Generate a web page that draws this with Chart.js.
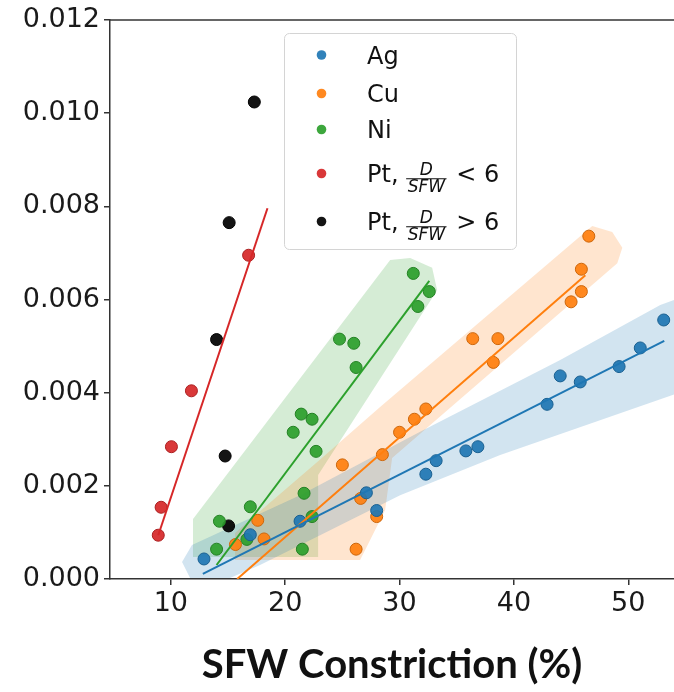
<!DOCTYPE html>
<html>
<head>
<meta charset="utf-8">
<script src="https://cdn.jsdelivr.net/npm/chart.js@4.4.0/dist/chart.umd.min.js"></script>
<style>
  html, body { margin: 0; padding: 0; background: #ffffff; }
  #wrap { width: 674px; height: 692px; position: relative; overflow: hidden; }
  canvas { display: block; }
</style>
</head>
<body>
<div id="wrap"><canvas id="chart" width="674" height="692"></canvas></div>
<script>
// Axis ticks
const xTicks = [10, 20, 30, 40, 50];
const yTicks = [0, 0.002, 0.004, 0.006, 0.008, 0.010, 0.012];

// Measured points: SFW constriction (%) vs. value
const agX = [12.9, 16.95, 21.3, 27.1, 28.0, 32.3, 33.2, 35.8, 36.85, 42.9, 44.05, 45.8, 49.2, 51.05, 53.1];
const agY = [0.00043, 0.00095, 0.00124, 0.00185, 0.00147, 0.00225, 0.00254, 0.00275, 0.00284, 0.00375, 0.00436, 0.00423, 0.00456, 0.00496, 0.00556];

const cuX = [15.65, 17.6, 18.15, 25.0, 26.2, 26.6, 28.0, 28.5, 30.0, 31.3, 32.3, 36.4, 38.2, 38.6, 45.0, 45.9, 45.9, 46.55];
const cuY = [0.00074, 0.00126, 0.00086, 0.00245, 0.00064, 0.00173, 0.00134, 0.00267, 0.00315, 0.00343, 0.00365, 0.00516, 0.00465, 0.00516, 0.00595, 0.00617, 0.00665, 0.00736];

const niX = [14.0, 14.25, 16.65, 16.95, 20.7, 21.4, 21.5, 21.65, 22.35, 22.35, 22.7, 24.75, 26.0, 26.2, 31.2, 31.6, 32.6];
const niY = [0.00064, 0.00124, 0.00085, 0.00155, 0.00315, 0.00354, 0.00064, 0.00184, 0.00343, 0.00134, 0.00274, 0.00515, 0.00506, 0.00454, 0.00656, 0.00585, 0.00617];

const ptLowX = [8.9, 9.15, 10.05, 11.8, 16.8];
const ptLowY = [0.00094, 0.00154, 0.00284, 0.00404, 0.00695];

const ptHighX = [14.0, 14.75, 15.05, 15.1, 17.3];
const ptHighY = [0.00514, 0.00264, 0.00114, 0.00765, 0.01024];

// Linear fits (end points)
const agFitX = [12.8, 53.15];
const agFitY = [0.00011, 0.00511];
const cuFitX = [15.8, 46.25];
const cuFitY = [0.0, 0.00652];
const niFitX = [14.0, 32.6];
const niFitY = [0.0003, 0.0064];
const ptFitX = [8.9, 18.45];
const ptFitY = [0.00094, 0.00796];

// Shaded spread regions (polygon outlines)
const agBandX = [11.68, 10.98, 11.85, 21.3, 31.8, 44.05, 52.8, 56.3, 56.3, 38.8, 30.05, 23.05, 17.8, 15.18];
const agBandY = [0.00002, 0.000365, 0.00073, 0.0018, 0.00316, 0.0047, 0.00588, 0.0062, 0.00416, 0.00266, 0.0018, 0.00094, 0.0003, 0.00002];

const cuBandX = [15.62, 26.55, 28.74, 29.35, 49.04, 49.48, 48.6, 46.85, 28.3, 22.88, 16.93, 15.62];
const cuBandY = [0.00041, 0.00041, 0.00148, 0.0026, 0.00678, 0.00711, 0.00745, 0.00758, 0.00369, 0.00253, 0.00127, 0.00099];

const niBandX = [11.94, 22.88, 22.88, 33.29, 32.85, 30.93, 29.18, 11.94];
const niBandY = [0.00047, 0.00047, 0.00223, 0.0062, 0.00668, 0.00689, 0.00685, 0.00129];

const C = {
  ag: '#1f77b4', cu: '#ff7f0e', ni: '#2ca02c', pt: '#d62728', ptHigh: '#000000'
};

function pts(xs, ys) { return xs.map((x, i) => ({ x: x, y: ys[i] })); }
function closed(xs, ys) { const p = pts(xs, ys); p.push({ x: xs[0], y: ys[0] }); return p; }
function rgba(hex, a) {
  const n = parseInt(hex.slice(1), 16);
  return 'rgba(' + ((n >> 16) & 255) + ',' + ((n >> 8) & 255) + ',' + (n & 255) + ',' + a + ')';
}
function darker(hex, f) {
  const n = parseInt(hex.slice(1), 16);
  const r = Math.round(((n >> 16) & 255) * f), g = Math.round(((n >> 8) & 255) * f), b = Math.round((n & 255) * f);
  return 'rgb(' + r + ',' + g + ',' + b + ')';
}

function bandSet(xs, ys, color) {
  return {
    type: 'line', data: closed(xs, ys), order: 3,
    borderWidth: 0, borderColor: 'rgba(0,0,0,0)', pointRadius: 0,
    backgroundColor: rgba(color, 0.2), fill: 'shape', tension: 0, clip: 0
  };
}
function fitSet(xs, ys, color) {
  return {
    type: 'line', data: pts(xs, ys), order: 1,
    borderColor: color, borderWidth: 2, pointRadius: 0, fill: false, tension: 0
  };
}
function pointSet(xs, ys, color) {
  return {
    type: 'scatter', data: pts(xs, ys), order: 2,
    backgroundColor: rgba(color, 0.92), borderColor: color === '#000000' ? '#000' : darker(color, 0.8),
    borderWidth: 1, pointRadius: 6, pointHoverRadius: 6
  };
}

// Legend drawn inside the plot area
const legendRows = [
  { color: C.ag, text: 'Ag', cy: 55 },
  { color: C.cu, text: 'Cu', cy: 93.5 },
  { color: C.ni, text: 'Ni', cy: 129.5 },
  { color: C.pt, text: 'Pt, ', num: 'D', den: 'SFW', tail: ' < 6', cy: 173.5 },
  { color: C.ptHigh, text: 'Pt, ', num: 'D', den: 'SFW', tail: ' > 6', cy: 221.5 }
];

const frame = {
  id: 'frame',
  afterDraw(chart) {
    const { ctx, chartArea: a } = chart;
    ctx.save();
    // top spine
    ctx.strokeStyle = '#333';
    ctx.lineWidth = 1.5;
    ctx.beginPath();
    ctx.moveTo(a.left, a.top);
    ctx.lineTo(a.right, a.top);
    ctx.stroke();

    // legend box
    const bx = 284.5, by = 33.5, bw = 232, bh = 216, r = 5;
    ctx.fillStyle = 'rgba(255,255,255,0.85)';
    ctx.strokeStyle = '#d4d4d4';
    ctx.lineWidth = 1;
    ctx.beginPath();
    ctx.moveTo(bx + r, by);
    ctx.arcTo(bx + bw, by, bx + bw, by + bh, r);
    ctx.arcTo(bx + bw, by + bh, bx, by + bh, r);
    ctx.arcTo(bx, by + bh, bx, by, r);
    ctx.arcTo(bx, by, bx + bw, by, r);
    ctx.closePath();
    ctx.fill();
    ctx.stroke();

    const font = '24px "DejaVu Sans"';
    const small = 'italic 17px "DejaVu Sans"';
    ctx.textBaseline = 'alphabetic';
    legendRows.forEach(row => {
      ctx.fillStyle = rgba(row.color, 0.92);
      ctx.beginPath();
      ctx.arc(321.5, row.cy, 4.8, 0, Math.PI * 2);
      ctx.fill();
      ctx.fillStyle = '#111';
      ctx.font = font;
      ctx.textAlign = 'left';
      const base = row.cy + 8.8;
      let x = 367;
      ctx.fillText(row.text, x, base);
      if (row.num) {
        x += ctx.measureText(row.text).width;
        ctx.font = small;
        const w = ctx.measureText(row.den).width + 3;
        const cx = x + w / 2;
        ctx.textAlign = 'center';
        ctx.fillText(row.num, cx, base - 7);
        ctx.fillText(row.den, cx, base + 10);
        ctx.strokeStyle = '#111';
        ctx.lineWidth = 1.1;
        ctx.beginPath();
        ctx.moveTo(x, base - 3.5);
        ctx.lineTo(x + w, base - 3.5);
        ctx.stroke();
        ctx.font = font;
        ctx.textAlign = 'left';
        ctx.fillText(row.tail, x + w + 2, base);
      }
    });
    ctx.restore();
  }
};

const chart = new Chart(document.getElementById('chart'), {
  type: 'scatter',
  data: {
    datasets: [
      bandSet(agBandX, agBandY, C.ag),
      bandSet(cuBandX, cuBandY, C.cu),
      bandSet(niBandX, niBandY, C.ni),
      pointSet(agX, agY, C.ag),
      pointSet(cuX, cuY, C.cu),
      pointSet(niX, niY, C.ni),
      pointSet(ptLowX, ptLowY, C.pt),
      pointSet(ptHighX, ptHighY, C.ptHigh),
      fitSet(agFitX, agFitY, C.ag),
      fitSet(cuFitX, cuFitY, C.cu),
      fitSet(niFitX, niFitY, C.ni),
      fitSet(ptFitX, ptFitY, C.pt)
    ]
  },
  options: {
    responsive: false,
    animation: false,
    devicePixelRatio: 1,
    events: [],
    layout: { autoPadding: false, padding: { top: 20, right: 0, left: 0, bottom: 0 } },
    plugins: { legend: { display: false }, tooltip: { enabled: false } },
    scales: {
      x: {
        type: 'linear', position: 'bottom', min: 4.68, max: 54.0,
        afterBuildTicks(s) { s.ticks = xTicks.map(v => ({ value: v })); },
        afterFit(s) { s.height = 113; s.paddingLeft = 0; s.paddingRight = 0; },
        grid: { display: true, drawOnChartArea: false, drawTicks: true, tickLength: 6, color: '#333', lineWidth: 1.5 },
        border: { display: true, color: '#333', width: 1.5 },
        ticks: { color: '#1a1a1a', font: { family: 'DejaVu Sans', size: 27 }, padding: 3, maxRotation: 0 },
        title: {
          display: true, text: 'SFW Constriction (%)', color: '#111',
          font: { family: 'Lato', weight: 'bold', size: 40 }, padding: { top: 0, bottom: 3 }
        }
      },
      y: {
        type: 'linear', min: 0, max: 0.012,
        afterBuildTicks(s) { s.ticks = yTicks.map(v => ({ value: v })); },
        afterFit(s) { s.width = 110; s.paddingTop = 0; s.paddingBottom = 0; },
        grid: { display: true, drawOnChartArea: false, drawTicks: true, tickLength: 6, color: '#333', lineWidth: 1.5 },
        border: { display: true, color: '#333', width: 1.5 },
        ticks: { color: '#1a1a1a', font: { family: 'DejaVu Sans', size: 27 }, padding: 4,
          callback: v => v.toFixed(3) }
      }
    }
  },
  plugins: [frame]
});
</script>
</body>
</html>
